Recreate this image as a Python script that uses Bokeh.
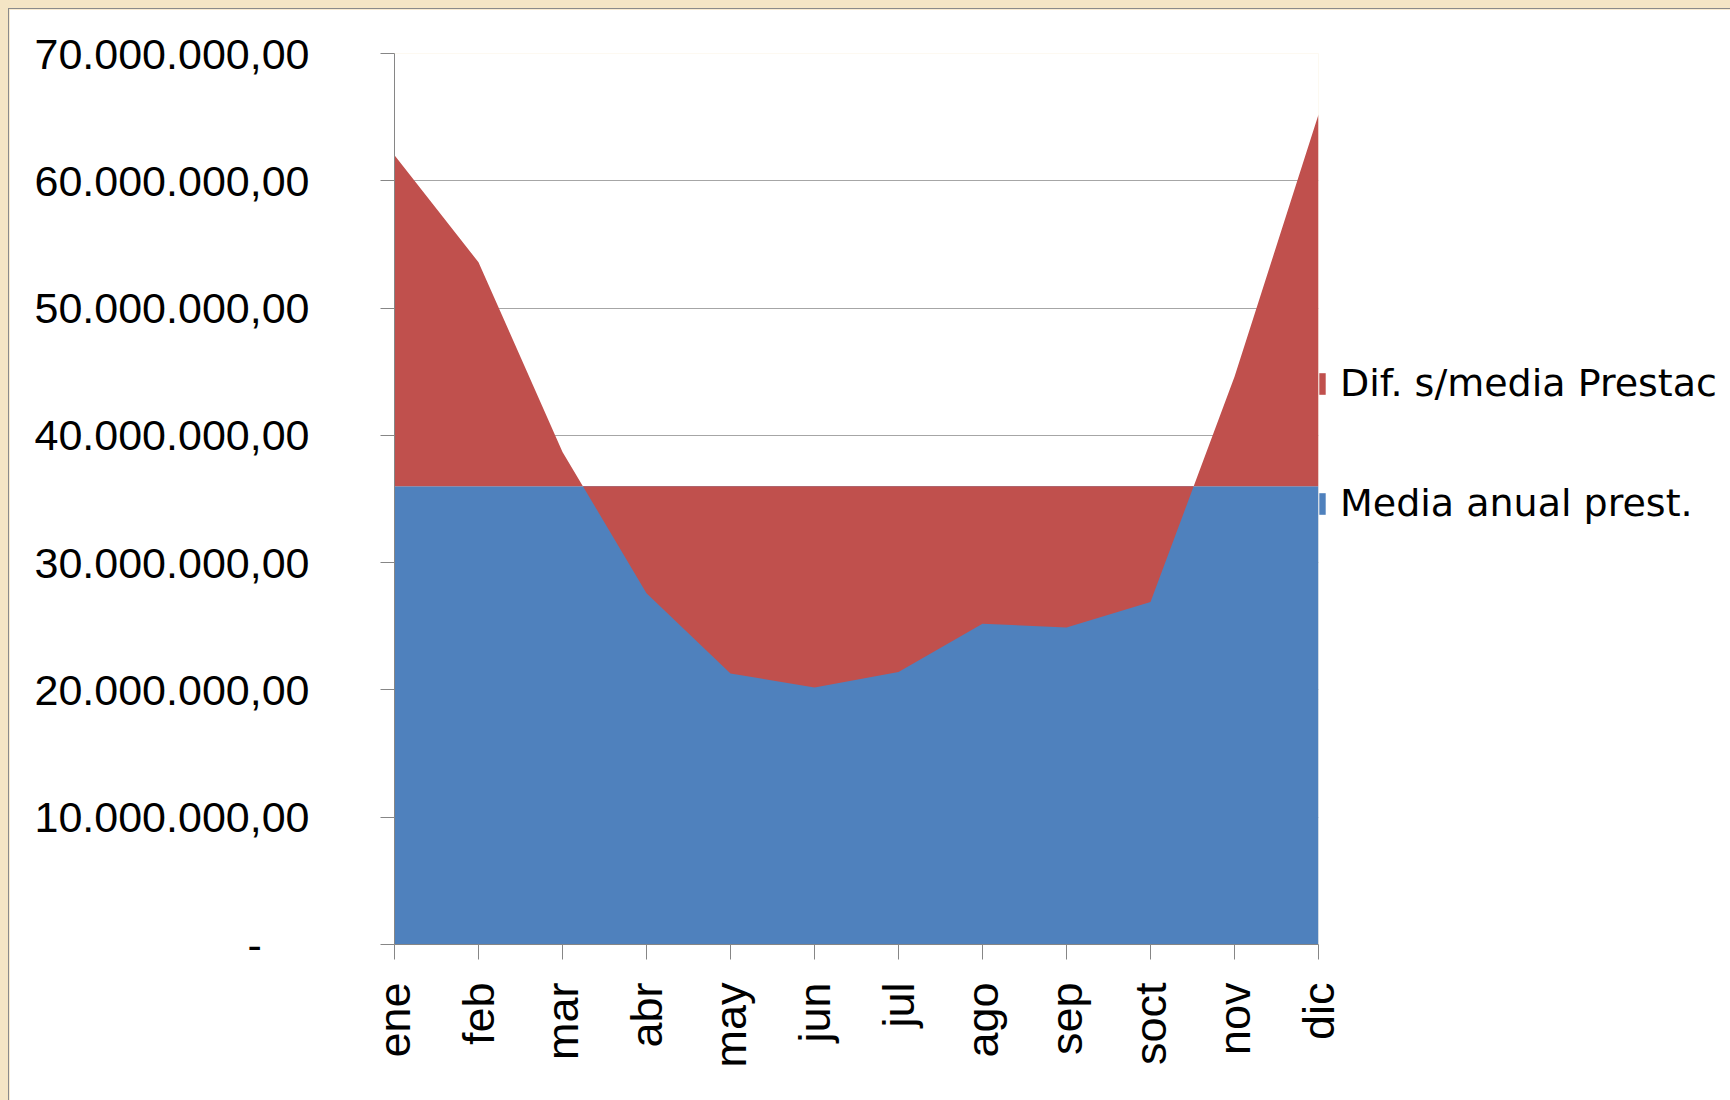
import math
from bokeh.plotting import figure
from bokeh.models import Range1d, FixedTicker, Legend, LegendItem, ColumnDataSource
from bokeh.embed import file_html
from bokeh.resources import INLINE

# ---------------- data ----------------
months = ["ene", "feb", "mar", "abr", "may", "jun", "jul", "ago", "sep", "soct", "nov", "dic"]
media_anual = [36.0e6, 36.0e6, 36.0e6, 36.0e6, 36.0e6, 36.0e6,
               36.0e6, 36.0e6, 36.0e6, 36.0e6, 36.0e6, 36.0e6]
dif_media = [26.0e6, 17.6e6, 2.7e6, -8.4e6, -14.7e6, -15.8e6,
             -14.6e6, -10.8e6, -11.1e6, -9.1e6, 8.6e6, 29.2e6]
y_ticks = [0, 10000000, 20000000, 30000000, 40000000, 50000000, 60000000, 70000000]
y_tick_labels = ["-\u00a0\u00a0\u00a0\u00a0", "10.000.000,00", "20.000.000,00", "30.000.000,00",
                 "40.000.000,00", "50.000.000,00", "60.000.000,00", "70.000.000,00"]
series_names = ["Dif. s/media Prestac", "Media anual prest."]

# ---------------- figure ----------------
x = list(range(len(months)))
stack_top = [m + d for m, d in zip(media_anual, dif_media)]
src = ColumnDataSource(dict(x=x, zero=[0] * len(x), media=media_anual, top=stack_top))

p = figure(frame_width=924, frame_height=891, output_backend="svg", toolbar_location=None,
           x_range=Range1d(0, len(months) - 1), y_range=Range1d(0, 70000000),
           min_border_left=385, min_border_right=0, min_border_top=44,
           min_border_bottom=156)
p.styles = {"border-top": "1px solid #8a8a8a", "border-left": "1px solid #8a8a8a",
            "border-right": "1px solid #8a8a8a"}
p.background_fill_color = "white"
p.border_fill_color = "white"
p.outline_line_color = None

blue = p.varea(x="x", y1="zero", y2="media", source=src, fill_color="#4F81BD")
red = p.varea(x="x", y1="media", y2="top", source=src, fill_color="#C0504D")

# grid
p.xgrid.visible = False
p.ygrid.grid_line_color = "#a6a6a6"
p.ygrid.grid_line_width = 1
p.ygrid.ticker = FixedTicker(ticks=y_ticks)

# y axis
ya = p.yaxis[0]
ya.ticker = FixedTicker(ticks=y_ticks)
ya.major_label_overrides = dict(zip(y_ticks, y_tick_labels))
ya.axis_line_color = "#868686"
ya.major_tick_line_color = "#868686"
ya.major_tick_out = 14
ya.major_tick_in = 0
ya.minor_tick_line_color = None
ya.major_label_standoff = 71
ya.major_label_text_font = "Liberation Sans"
ya.major_label_text_font_size = "43px"
ya.major_label_text_color = "black"

# x axis
xa = p.xaxis[0]
xa.ticker = FixedTicker(ticks=x)
xa.major_label_overrides = dict(zip(x, months))
xa.major_label_orientation = math.pi / 2
xa.axis_line_color = "#868686"
xa.major_tick_line_color = "#868686"
xa.major_tick_out = 15
xa.major_tick_in = 0
xa.minor_tick_line_color = None
xa.major_label_standoff = 23
xa.major_label_text_font = "Liberation Sans"
xa.major_label_text_font_size = "45px"
xa.major_label_text_color = "black"

# legend (right panel, next to the plot frame)
legend = Legend(items=[LegendItem(label=series_names[0], renderers=[red]),
                       LegendItem(label=series_names[1], renderers=[blue])],
                location=(0, 419), orientation="vertical",
                glyph_width=8, glyph_height=27, label_height=40, label_standoff=14,
                label_width=384,
                spacing=76, padding=0, margin=0,
                border_line_color=None, background_fill_alpha=0,
                label_text_font="DejaVu Sans", label_text_font_size="38px",
                label_text_color="black")
p.add_layout(legend, "right")

html = file_html(p, INLINE)
html = html.replace("</head>",
                    "<style>html, body { background-color: #f4e5c5 !important; }"
                    " body { padding: 8px 0 0 8px !important; }</style></head>", 1)
open("out.html", "w").write(html)
